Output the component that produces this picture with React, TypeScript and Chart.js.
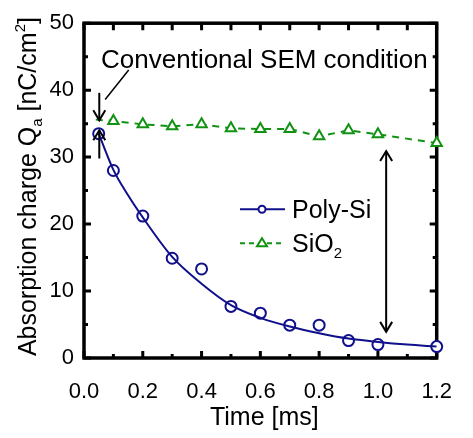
import React, { useEffect, useRef } from "react";
import { Chart, registerables } from "chart.js";
Chart.register(...registerables);

// ---- data ----
const polyTime = [0.05, 0.1, 0.2, 0.3, 0.4, 0.5, 0.6, 0.7, 0.8, 0.9, 1.0, 1.2];
const polyCharge = [33.5, 28.0, 21.2, 14.9, 13.3, 7.7, 6.7, 4.9, 4.9, 2.6, 2.0, 1.7];

const fitTime = [0.05, 0.1, 0.15, 0.2, 0.3, 0.4, 0.5, 0.6, 0.7, 0.8, 0.9, 1.0, 1.1, 1.2];
const fitCharge = [33.5, 28.1, 24.3, 21.0, 15.1, 11.1, 7.9, 6.0, 4.7, 3.7, 2.9, 2.4, 2.0, 1.7];

const sio2Time = [0.04, 0.1, 0.2, 0.3, 0.4, 0.5, 0.6, 0.7, 0.8, 0.9, 1.0, 1.2];
const sio2Charge = [35.6, 35.4, 34.9, 34.6, 34.9, 34.3, 34.2, 34.2, 33.1, 34.0, 33.4, 32.1];

const xTicks = [0, 0.2, 0.4, 0.6, 0.8, 1.0, 1.2];
const yTicks = [0, 10, 20, 30, 40, 50];

const NAVY = "#10108c";
const GREEN = "#129212";
const FONT = "'Liberation Sans', Arial, sans-serif";

const toXY = (xs: number[], ys: number[]) => xs.map((x, i) => ({ x, y: ys[i] }));

function vArrow(ctx: CanvasRenderingContext2D, x: number, yFrom: number, yTo: number, heads: number) {
  ctx.beginPath();
  ctx.moveTo(x, yFrom);
  ctx.lineTo(x, yTo);
  ctx.stroke();
  const drawHead = (yTip: number, dir: number) => {
    ctx.beginPath();
    ctx.moveTo(x - 6, yTip - dir * 10);
    ctx.lineTo(x, yTip);
    ctx.lineTo(x + 6, yTip - dir * 10);
    ctx.stroke();
  };
  const dir = yTo > yFrom ? 1 : -1;
  drawHead(yTo, dir);
  if (heads === 2) drawHead(yFrom, -dir);
}

const framePlugin = {
  id: "frame",
  beforeDatasetsDraw(chart: any) {
    const { ctx, chartArea: a, scales } = chart;
    const xs = scales.x, ys = scales.y;
    ctx.save();
    ctx.strokeStyle = "#000";
    ctx.lineWidth = 3.5;
    ctx.strokeRect(a.left, a.top, a.right - a.left, a.bottom - a.top);
    ctx.lineWidth = 3;
    const xt = xs.ticks.map((t: any) => xs.getPixelForValue(t.value));
    const yt = ys.ticks.map((t: any) => ys.getPixelForValue(t.value));
    const major = 7, minor = 4;
    ctx.beginPath();
    xt.forEach((px: number, i: number) => {
      ctx.moveTo(px, a.bottom); ctx.lineTo(px, a.bottom - major);
      ctx.moveTo(px, a.top); ctx.lineTo(px, a.top + major);
      if (i < xt.length - 1) {
        const m = (px + xt[i + 1]) / 2;
        ctx.moveTo(m, a.bottom); ctx.lineTo(m, a.bottom - minor);
        ctx.moveTo(m, a.top); ctx.lineTo(m, a.top + major);
      }
    });
    yt.forEach((py: number, i: number) => {
      ctx.moveTo(a.left, py); ctx.lineTo(a.left + major, py);
      ctx.moveTo(a.right, py); ctx.lineTo(a.right - major, py);
      if (i < yt.length - 1) {
        const m = (py + yt[i + 1]) / 2;
        ctx.moveTo(a.left, m); ctx.lineTo(a.left + minor, m);
        ctx.moveTo(a.right, m); ctx.lineTo(a.right - minor, m);
      }
    });
    ctx.stroke();
    ctx.restore();
  },
  afterDatasetsDraw(chart: any) {
    const { ctx, chartArea: a, scales } = chart;
    const X = (v: number) => scales.x.getPixelForValue(v);
    const Y = (v: number) => scales.y.getPixelForValue(v);
    ctx.save();
    ctx.fillStyle = "#000";
    ctx.strokeStyle = "#000";

    // Y axis title with sub/superscripts
    const big = `25px ${FONT}`, small = `15px ${FONT}`;
    const segs: [string, string, number][] = [
      ["Absorption charge Q", big, 0],
      ["a", small, 6],
      [" [nC/cm", big, 0],
      ["2", small, -11],
      ["]", big, 0],
    ];
    let total = 0;
    segs.forEach(([t, f]) => { ctx.font = f; total += ctx.measureText(t).width; });
    ctx.translate(36, (a.top + a.bottom) / 2 - 4);
    ctx.rotate(-Math.PI / 2);
    ctx.textBaseline = "alphabetic";
    ctx.textAlign = "left";
    let cx = -total / 2;
    segs.forEach(([t, f, dy]) => { ctx.font = f; ctx.fillText(t, cx, dy); cx += ctx.measureText(t).width; });
    ctx.setTransform(1, 0, 0, 1, 0, 0);

    // X axis title
    ctx.font = big;
    ctx.textAlign = "center";
    ctx.fillText("Time [ms]", (a.left + a.right) / 2 + 4, 425);

    // annotation
    ctx.font = `26px ${FONT}`;
    ctx.textAlign = "left";
    ctx.fillText("Conventional SEM condition", X(0.058), Y(43.3));
    ctx.lineWidth = 1.5;
    ctx.beginPath();
    ctx.moveTo(X(0.152), Y(43.0));
    ctx.lineTo(X(0.072), Y(38.6));
    ctx.stroke();
    ctx.lineWidth = 2;
    vArrow(ctx, X(0.052), Y(39.6), Y(35.5), 1);
    vArrow(ctx, X(0.052), Y(29.8), Y(34.0), 1);
    vArrow(ctx, X(1.028), Y(30.9), Y(3.9), 2);

    // legend
    const lx = a.left + 156, ly1 = a.top + 186, ly2 = a.top + 220;
    ctx.lineWidth = 2;
    ctx.strokeStyle = NAVY;
    ctx.beginPath(); ctx.moveTo(lx, ly1); ctx.lineTo(lx + 45, ly1); ctx.stroke();
    ctx.fillStyle = "#fff";
    ctx.beginPath(); ctx.arc(lx + 22, ly1, 3.5, 0, Math.PI * 2); ctx.fill(); ctx.stroke();
    ctx.strokeStyle = GREEN;
    ctx.setLineDash([5, 4]);
    ctx.beginPath(); ctx.moveTo(lx, ly2); ctx.lineTo(lx + 45, ly2); ctx.stroke();
    ctx.setLineDash([]);
    ctx.beginPath();
    ctx.moveTo(lx + 22, ly2 - 5); ctx.lineTo(lx + 27, ly2 + 3); ctx.lineTo(lx + 17, ly2 + 3); ctx.closePath();
    ctx.fill(); ctx.stroke();
    ctx.fillStyle = "#000";
    ctx.font = big;
    ctx.textAlign = "left";
    ctx.fillText("Poly-Si", lx + 52, ly1 + 9);
    ctx.fillText("SiO", lx + 52, ly2 + 9);
    const w = ctx.measureText("SiO").width;
    ctx.font = small;
    ctx.fillText("2", lx + 52 + w, ly2 + 15);
    ctx.restore();
  },
};

export default function App() {
  const ref = useRef<HTMLCanvasElement>(null);
  useEffect(() => {
    if (!ref.current) return;
    const chart = new Chart(ref.current, {
      type: "line",
      data: {
        datasets: [
          {
            label: "fit",
            data: toXY(fitTime, fitCharge),
            borderColor: NAVY,
            borderWidth: 2,
            pointRadius: 0,
            cubicInterpolationMode: "monotone",
            fill: false,
          },
          {
            label: "Poly-Si",
            data: toXY(polyTime, polyCharge),
            showLine: false,
            borderColor: NAVY,
            backgroundColor: "#fff",
            pointStyle: "circle",
            pointRadius: 5.5,
            pointBorderWidth: 2,
            clip: false,
          },
          {
            label: "SiO2",
            data: toXY(sio2Time, sio2Charge),
            borderColor: GREEN,
            backgroundColor: "#fff",
            borderWidth: 2,
            borderDash: [7, 6],
            pointStyle: "triangle",
            pointRadius: sio2Time.map((_, i) => (i === 0 ? 0 : 6)),
            pointBorderWidth: 2,
            tension: 0,
            clip: false,
          },
        ] as any,
      },
      options: {
        animation: false,
        responsive: false,
        layout: { padding: { left: 0, top: 21, right: 18, bottom: 0 } },
        plugins: { legend: { display: false }, tooltip: { enabled: false } },
        scales: {
          x: {
            type: "linear",
            min: 0,
            max: 1.2,
            afterBuildTicks: (s: any) => { s.ticks = xTicks.map((v) => ({ value: v })); },
            afterFit: (s: any) => { s.height = 80; },
            grid: { display: false, drawTicks: false },
            border: { display: false },
            ticks: {
              color: "#000",
              font: { family: FONT, size: 22 },
              padding: 21,
              maxRotation: 0,
              callback: (v: any) => Number(v).toFixed(1),
            },
          },
          y: {
            type: "linear",
            min: 0,
            max: 50,
            afterBuildTicks: (s: any) => { s.ticks = yTicks.map((v) => ({ value: v })); },
            afterFit: (s: any) => { s.width = 84; },
            grid: { display: false, drawTicks: false },
            border: { display: false },
            ticks: {
              color: "#000",
              font: { family: FONT, size: 22 },
              padding: 10,
              callback: (v: any) => String(v),
            },
          },
        },
      } as any,
      plugins: [framePlugin],
    });
    return () => chart.destroy();
  }, []);
  return (
    <div style={{ position: "absolute", left: 0, top: 0, width: 473, height: 438, background: "#fff" }}>
      <canvas ref={ref} width={473} height={438} style={{ width: 473, height: 438 }} />
    </div>
  );
}
